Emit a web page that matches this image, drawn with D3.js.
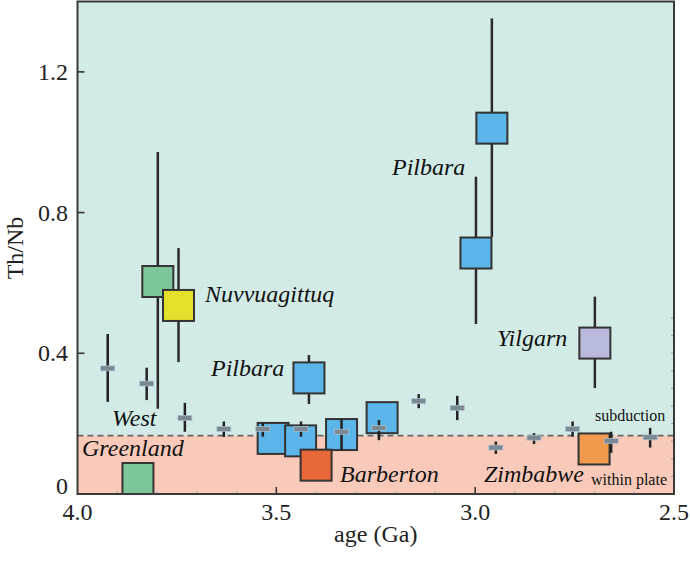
<!DOCTYPE html>
<html><head><meta charset="utf-8">
<script src="https://cdn.jsdelivr.net/npm/d3@7"></script>
<style>body{margin:0;background:#fff}svg{display:block}</style>
</head><body><svg id="c" width="690" height="565" font-family="'Liberation Serif', 'Times New Roman', Times, Tinos, 'Noto Serif', 'DejaVu Serif', serif"></svg>
<script>
// Large symbols: name, age (Ga), Th/Nb, whisker low, whisker high, colour
const boxNames  = ["Greenland","WestGreenland","Nuvvuagittuq","PilbaraMid","PilbaraA","PilbaraB","PilbaraC","PilbaraD","Pilbara1","Pilbara2","Yilgarn","Zimbabwe","Barberton"];
const boxAge    = [3.848,3.798,3.746,3.418,3.508,3.439,3.336,3.234,2.998,2.958,2.699,2.701,3.400];
const boxVal    = [0.044,0.604,0.536,0.330,0.158,0.151,0.169,0.217,0.685,1.040,0.429,0.128,0.082];
const boxLo     = [null,0.242,0.375,0.256,null,null,null,null,0.483,0.731,0.301,null,null];
const boxHi     = [null,0.972,0.699,0.395,null,null,null,null,0.902,1.352,0.561,null,null];
const boxColor  = ["#7dc69b","#7dc69b","#e2e02a","#5bb5e8","#5bb5e8","#5bb5e8","#5bb5e8","#5bb5e8","#5bb5e8","#5bb5e8","#b9b9dd","#f19a4e","#e8683a"];
// Small grey binned averages
const binAge = [3.924,3.826,3.730,3.632,3.534,3.438,3.336,3.242,3.142,3.045,2.948,2.852,2.755,2.658,2.560];
const binVal = [0.357,0.314,0.216,0.185,0.185,0.185,0.177,0.188,0.264,0.245,0.132,0.160,0.185,0.151,0.161];
const binLo  = [0.262,0.267,0.177,0.162,0.163,0.163,0.125,0.153,0.244,0.210,0.114,0.142,0.163,0.117,0.132];
const binHi  = [0.455,0.359,0.259,0.206,0.202,0.206,0.213,0.210,0.284,0.279,0.149,0.173,0.206,0.177,0.188];
const boundary = 0.166;
const xTicks = [4.0,3.5,3.0,2.5];
const xTickLabels = ["4.0","3.5","3.0","2.5"];
const xMinor = [3.9,3.8,3.7,3.6,3.4,3.3,3.2,3.1,2.9,2.8,2.7,2.6];
const yTicks = [0,0.4,0.8,1.2];
const yTickLabels = ["0","0.4","0.8","1.2"];
const yMinorRight = [0.05,0.10,0.15,0.20,0.25,0.30,0.35,0.40,0.45,0.50];

const svg = d3.select("#c");
const x = d3.scaleLinear().domain([4.0,2.5]).range([77.5,674]);
const y = d3.scaleLinear().domain([0,1.4]).range([494,1.5]);
const L=x(4.0), R=x(2.5), T=y(1.4), B=y(0);

// backgrounds
svg.append("rect").attr("x",L).attr("y",T).attr("width",R-L).attr("height",y(boundary)-T).attr("fill","#d2ebe6");
svg.append("rect").attr("x",L).attr("y",y(boundary)).attr("width",R-L).attr("height",B-y(boundary)).attr("fill","#f9cab9");
svg.append("line").attr("x1",L).attr("x2",R).attr("y1",y(boundary)).attr("y2",y(boundary))
  .attr("stroke","#666").attr("stroke-width",1.6).attr("stroke-dasharray","6,4");

// ticks
const g = svg.append("g");
g.selectAll(".ym").data(yTicks.filter(d=>d>0)).join("line")
  .attr("x1",L).attr("x2",L+7).attr("y1",d=>y(d)).attr("y2",d=>y(d)).attr("stroke","#333").attr("stroke-width",1.6);
g.selectAll(".xm").data([3.5,3.0]).join("line")
  .attr("x1",d=>x(d)).attr("x2",d=>x(d)).attr("y1",B).attr("y2",B-7).attr("stroke","#333").attr("stroke-width",1.6);
g.selectAll(".xn").data(xMinor).join("line")
  .attr("x1",d=>x(d)).attr("x2",d=>x(d)).attr("y1",B).attr("y2",B-3).attr("stroke","#aaa").attr("stroke-width",1);
g.selectAll(".yr").data(yMinorRight).join("line")
  .attr("x1",R).attr("x2",R-3).attr("y1",d=>y(d)).attr("y2",d=>y(d)).attr("stroke","#999").attr("stroke-width",1);

// whiskers of big boxes
const boxes = boxAge.map((a,i)=>({a,v:boxVal[i],lo:boxLo[i],hi:boxHi[i],c:boxColor[i],n:boxNames[i]}));
const bins = binAge.map((a,i)=>({a,v:binVal[i],lo:binLo[i],hi:binHi[i]}));
const S = 31;
boxes.forEach(d=>{
  if(d.lo!=null){
    svg.append("line").attr("x1",x(d.a)).attr("x2",x(d.a)).attr("y1",y(d.lo)).attr("y2",y(d.hi))
      .attr("stroke","#2a2a2a").attr("stroke-width",2.5);
  }
  svg.append("rect").attr("x",x(d.a)-S/2).attr("y",y(d.v)-S/2).attr("width",S).attr("height",S)
    .attr("fill",d.c).attr("stroke","#333").attr("stroke-width",2);
});
// grey bins
bins.forEach(d=>{
  svg.append("line").attr("x1",x(d.a)).attr("x2",x(d.a)).attr("y1",y(d.lo)).attr("y2",y(d.hi))
    .attr("stroke","#222").attr("stroke-width",2.5);
  svg.append("rect").attr("x",x(d.a)-7).attr("y",y(d.v)-2.5).attr("width",14).attr("height",5)
    .attr("fill","#7b8793").attr("stroke","#a9c3d3").attr("stroke-width",0.7);
});

// frame
svg.append("rect").attr("x",L).attr("y",T).attr("width",R-L).attr("height",B-T)
  .attr("fill","none").attr("stroke","#3a3a3a").attr("stroke-width",2);

// tick labels
svg.selectAll(".xl").data(xTicks).join("text").attr("x",d=>x(d)).attr("y",520)
  .attr("text-anchor","middle").attr("font-size",24).attr("fill","#222").text((d,i)=>xTickLabels[i]);
svg.selectAll(".yl").data(yTicks).join("text").attr("x",68).attr("y",d=>d===0?494:y(d)+8)
  .attr("text-anchor","end").attr("font-size",24).attr("fill","#222").text((d,i)=>yTickLabels[i]);
svg.append("text").attr("x",(L+R)/2).attr("y",542).attr("text-anchor","middle").attr("font-size",24).attr("fill","#222").text("age (Ga)");
svg.append("text").attr("transform","translate(23,248) rotate(-90)").attr("text-anchor","middle").attr("font-size",24).attr("fill","#222").text("Th/Nb");

// annotations
const lab = [
  ["Nuvvuagittuq",205,302],["Pilbara",211,376],["Pilbara",392,175],["Yilgarn",497,346],
  ["West",112,426],["Greenland",82,456],["Barberton",340,482],["Zimbabwe",484,482]
];
lab.forEach(l=>svg.append("text").attr("x",l[1]).attr("y",l[2]).attr("font-size",24).attr("font-style","italic").attr("fill","#111").text(l[0]));
svg.append("text").attr("x",595).attr("y",421).attr("font-size",16).attr("fill","#111").text("subduction");
svg.append("text").attr("x",591).attr("y",485).attr("font-size",16).attr("fill","#111").text("within plate");
</script></body></html>
